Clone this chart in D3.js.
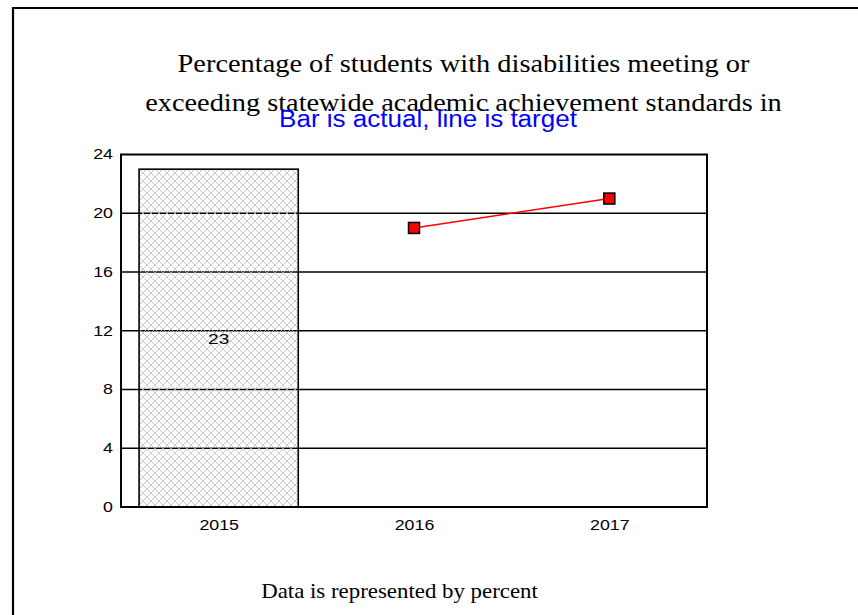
<!DOCTYPE html>
<html><head><meta charset="utf-8">
<script src="https://cdn.jsdelivr.net/npm/d3@7"></script>
<style>body{margin:0;background:#fff}svg{display:block}</style>
</head><body>
<svg id="c" width="858" height="615"></svg>
<script>
const categories = ["2015", "2016", "2017"];
const actualValues = [23, null, null];
const targetValues = [null, 19, 21];
const yTicks = [0, 4, 8, 12, 16, 20, 24];
const titleLines = ["Percentage of students with disabilities meeting or", "exceeding statewide academic achievement standards in"];
const subtitle = "Bar is actual, line is target";
const footer = "Data is represented by percent";

const SANS = "Liberation Sans, Arial, sans-serif";
const SERIF = "Liberation Serif, Times New Roman, serif";
const SX = 1.27;

const svg = d3.select("#c");
const m = {l: 121, r: 707, t: 154.5, b: 507};

function wideText(parent, x, y, str, opts) {
  const t = parent.append("text").attr("x", 0).attr("y", 0)
    .attr("text-anchor", opts.anchor || "middle").attr("font-family", opts.family)
    .attr("font-size", opts.size).attr("fill", opts.fill || "#000").text(str);
  const sx = opts.width ? opts.width / t.node().getComputedTextLength() : (opts.sx || SX);
  t.attr("transform", `translate(${x},${y}) scale(${sx},1)`);
  return t;
}

svg.append("path").attr("d", "M13,615 V8 H858").attr("fill", "none").attr("stroke", "#000").attr("stroke-width", 2.2);

const defs = svg.append("defs");
const pat = defs.append("pattern").attr("id", "hatch").attr("patternUnits", "userSpaceOnUse")
  .attr("width", 8).attr("height", 8).attr("x", 139).attr("y", 169);
pat.append("path").attr("d", "M0,0 L8,8 M8,0 L0,8 M-1,7 L1,9 M7,-1 L9,1 M-1,1 L1,-1 M7,9 L9,7")
  .attr("stroke", "#bdbdbd").attr("stroke-width", 0.8).attr("fill", "none");

const x = d3.scaleBand().domain(categories).range([m.l, m.r]).paddingInner(0.185).paddingOuter(0.0925);
const xp = d3.scalePoint().domain(categories).range([m.l, m.r]).padding(0.5);
const y = d3.scaleLinear().domain([0, 24]).range([m.b, m.t]);

svg.append("g").selectAll("line").data(yTicks.filter(t => t > 0 && t < 24)).join("line")
  .attr("x1", m.l).attr("x2", m.r).attr("y1", d => y(d)).attr("y2", d => y(d))
  .attr("stroke", "#000").attr("stroke-width", 1.6);

const barData = categories.map((c, i) => ({c, v: actualValues[i]})).filter(d => d.v != null);
svg.append("g").selectAll("rect").data(barData).join("rect")
  .attr("x", d => x(d.c)).attr("width", x.bandwidth())
  .attr("y", d => y(d.v)).attr("height", d => y(0) - y(d.v))
  .attr("fill", "url(#hatch)").attr("stroke", "#000").attr("stroke-width", 1.6);

const lblG = svg.append("g");
barData.forEach(d => wideText(lblG, x(d.c) + x.bandwidth() / 2, y(d.v / 2) + 6, d.v, {family: SANS, size: 15}));

svg.append("rect").attr("x", m.l).attr("y", m.t).attr("width", m.r - m.l).attr("height", m.b - m.t)
  .attr("fill", "none").attr("stroke", "#000").attr("stroke-width", 2);

const lineData = categories.map((c, i) => ({c, v: targetValues[i]})).filter(d => d.v != null);
svg.append("path").datum(lineData)
  .attr("d", d3.line().x(d => xp(d.c)).y(d => y(d.v)))
  .attr("fill", "none").attr("stroke", "#ff0000").attr("stroke-width", 1.6);
svg.append("g").selectAll("rect").data(lineData).join("rect")
  .attr("x", d => xp(d.c) - 5.5).attr("y", d => y(d.v) - 5.5).attr("width", 11).attr("height", 11)
  .attr("fill", "#ff0000").attr("stroke", "#000").attr("stroke-width", 1.5);

const yAxis = svg.append("g").attr("transform", `translate(${m.l},0)`)
  .call(d3.axisLeft(y).tickValues(yTicks).tickSize(0).tickPadding(8));
yAxis.select(".domain").remove();
yAxis.selectAll("text").attr("font-family", SANS).attr("font-size", 14).attr("fill", "#000")
  .attr("x", 0).attr("transform", `translate(-8,0) scale(${SX},1)`);

const xAxis = svg.append("g").attr("transform", `translate(0,${m.b})`)
  .call(d3.axisBottom(xp).tickSize(0).tickPadding(13));
xAxis.select(".domain").remove();
xAxis.selectAll("text").attr("font-family", SANS).attr("font-size", 14).attr("fill", "#000")
  .attr("transform", `scale(${SX},1)`);

const titleWidths = [572, 637];
const tg = svg.append("g");
titleLines.forEach((s, i) => wideText(tg, 463.5, 72 + i * 38.5, s, {family: SERIF, size: 26, width: titleWidths[i]}));
wideText(svg, 428, 127, subtitle, {family: SANS, size: 23, fill: "#0000ff", width: 298});
wideText(svg, 399.5, 598, footer, {family: SERIF, size: 20, width: 277});
</script>
</body></html>
